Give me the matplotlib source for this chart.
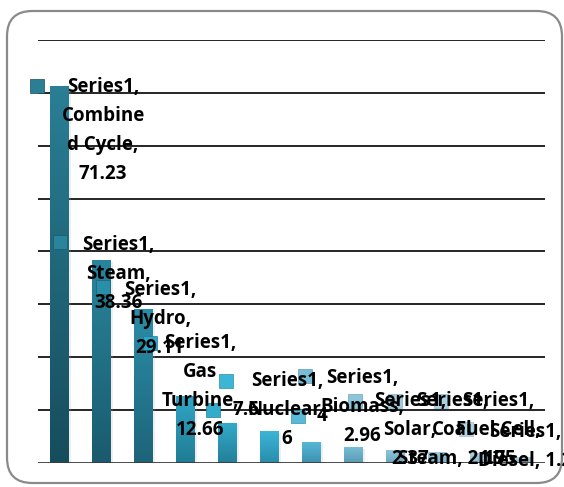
import matplotlib
matplotlib.use("Agg")
import numpy as np
import matplotlib.pyplot as plt
import matplotlib.patheffects as pe
from matplotlib import transforms
from matplotlib.patches import FancyBboxPatch

# data
series_name = "Series1"
categories = ["Combined Cycle", "Steam", "Hydro", "Gas Turbine", None, "Nuclear",
              None, "Biomass", "Solar", "Coal Steam", "Fuel Cell", "Diesel"]
values = [71.23, 38.36, 29.11, 12.66, 7.6, 6, 4, 2.96, 2.37, 2.17, 1.95, 1.2]
y_ticks = [0, 10, 20, 30, 40, 50, 60, 70, 80]

# bar colours (top, bottom of gradient)
bar_top = ["#2a7f95", "#2a849c", "#2b8ea8", "#30a6c6", "#33abcb", "#3cb5d7",
           "#58b9d8", "#77bdd5", "#8cc5d9", "#9ccbdd", "#a9d1e1", "#b2d5e3"]
bar_bot = ["#164d5d", "#1a5b6d", "#1d6479", "#207c94", "#237f98", "#2a8cab",
           "#3d91af", "#5b9bb4", "#6ea6bd", "#80b1c5", "#8db9cc", "#99c0d0"]

# how each data label wraps in the original
wraps = {"Combined Cycle": "Combine\nd Cycle,", "Gas Turbine": "Gas\nTurbine,",
         "Coal Steam": "Coal\nSteam,"}
inline_value = {"Coal Steam", "Diesel"}

# label placement (pixels, relative to bar top centre): text dx, first line dy, key dx, key dy
label_off = [(44, -1, -22, 0), (17, 15, -41, 18), (17, 19, -40, 22), (15, 53, -35, 53),
             (19, 13, -14, 13), (18, 50, -43, 50), (11, 26, -13, 26), (9, 69, -48, 71),
             (15, 49, -40, 49), (15, 51, -42, 51), (19, 52, -38, 52), (4, 25, -55, 28)]
line_gap = 29

plt.rcParams["font.family"] = ["Open Sans", "DejaVu Sans"]

W, H = 564, 487
fig = plt.figure(figsize=(W / 100, H / 100), dpi=100)

# rounded frame
frame = FancyBboxPatch((7 / W, 4 / H), 555 / W, 472 / H,
                       boxstyle="round,pad=0,rounding_size=0.045",
                       transform=fig.transFigure, fc="none", ec="#8a8a8a", lw=1.6,
                       mutation_aspect=W / H, zorder=-1)
fig.patches.append(frame)

ax = fig.add_axes([38 / W, 1 - 463 / H, 507 / W, 423 / H])
ax.set_facecolor("none")
for s in ax.spines.values():
    s.set_visible(False)
ax.set_xticks([])
ax.set_yticks([])

for t in y_ticks[1:]:
    ax.axhline(t, color="black", lw=1.2, zorder=1)
ax.axhline(0, color="#3a3a3a", lw=2.0, zorder=4)

x = np.arange(len(values))
bars = ax.bar(x, values, width=0.43, color=bar_top, zorder=2,
              path_effects=[pe.SimplePatchShadow(offset=(2, -1), shadow_rgbFace="#aaaaaa", alpha=0.2),
                            pe.Normal()])
grad = np.linspace(0, 1, 100).reshape(-1, 1)
for i, b in enumerate(bars):
    c0 = np.array(matplotlib.colors.to_rgb(bar_bot[i]))
    c1 = np.array(matplotlib.colors.to_rgb(bar_top[i]))
    img = c0 + (c1 - c0) * grad[:, :, None]
    im = ax.imshow(img, extent=(b.get_x(), b.get_x() + b.get_width(), 0, values[i]),
                   origin="lower", aspect="auto", zorder=3)
    im.set_clip_path(b)

ax.set_xlim(-0.5, len(values) - 0.43)
ax.set_ylim(0, 80)

for i, v in enumerate(values):
    cat = categories[i]
    val = f"{v:g}"
    if cat is None:
        lines = [val]
    else:
        c = wraps.get(cat, cat + ",")
        if cat in inline_value:
            c = c + " " + val
            lines = [series_name + ","] + c.split("\n")
        else:
            lines = [series_name + ","] + c.split("\n") + [val]
    tdx, tdy, kdx, kdy = label_off[i]
    for j, ln in enumerate(lines):
        ax.annotate(ln, xy=(i, v), xytext=(tdx, tdy - j * line_gap),
                    textcoords="offset pixels", ha="center", va="center",
                    fontsize=13.5, fontweight="bold", color="black",
                    annotation_clip=False, zorder=6)
    ktr = transforms.offset_copy(ax.transData, fig=fig, x=kdx, y=kdy, units="dots")
    ax.plot([i], [v], marker="s", ms=10, color=bar_top[i], mec=bar_bot[i], mew=0.5,
            transform=ktr, clip_on=False, zorder=5)

fig.savefig("out.png", dpi=100)
